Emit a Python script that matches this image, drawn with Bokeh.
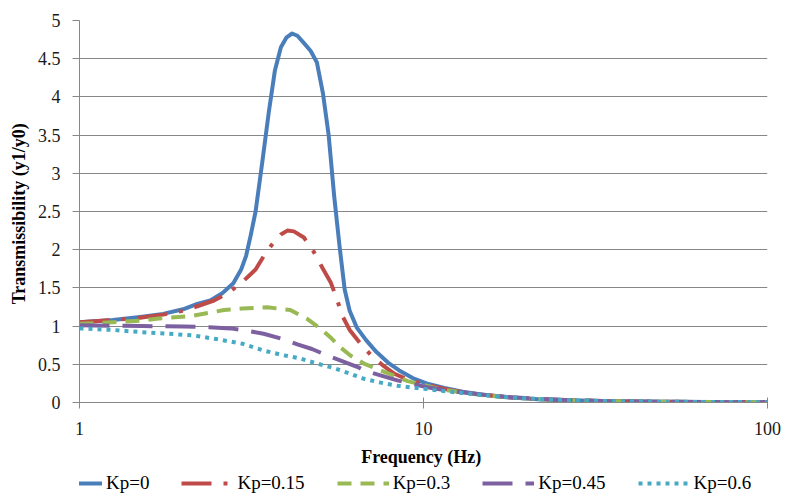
from bokeh.plotting import figure
from bokeh.layouts import column
from bokeh.models import Range1d, FixedTicker, CustomJSTickFormatter, Legend, LegendItem
from bokeh.embed import file_html
from bokeh.resources import INLINE

# ---- data ----
f_kp0 = [1, 1.25, 1.5, 1.75, 2, 2.2, 2.4, 2.6, 2.8, 2.95, 3.05, 3.15, 3.25, 3.4, 3.55, 3.7, 3.85,
         4.0, 4.15, 4.3, 4.5, 4.7, 4.9, 5.1, 5.3, 5.5, 5.7, 5.9, 6.1, 6.4, 6.8, 7.3, 7.9, 8.5,
         9.3, 10.2, 11.5, 13, 15, 18, 22, 27, 35, 50, 70, 100]
t_kp0 = [1.05, 1.08, 1.12, 1.16, 1.22, 1.29, 1.335, 1.43, 1.56, 1.74, 1.92, 2.2, 2.5, 3.15, 3.8,
         4.35, 4.65, 4.78, 4.83, 4.8, 4.7, 4.6, 4.45, 4.05, 3.5, 2.7, 2.05, 1.48, 1.2, 0.98, 0.82,
         0.66, 0.52, 0.42, 0.32, 0.25, 0.19, 0.14, 0.1, 0.065, 0.04, 0.028, 0.018, 0.01, 0.006, 0.004]

f_kp015 = [1, 1.25, 1.5, 1.75, 2, 2.2, 2.46, 2.7, 2.97, 3.25, 3.47, 3.7, 3.85, 4.02, 4.2, 4.49,
           4.8, 5.1, 5.37, 5.59, 5.8, 6.1, 6.56, 7.1, 7.6, 8.2, 8.8, 9.5, 10.5, 12, 14, 17, 21,
           27, 35, 50, 70, 100]
t_kp015 = [1.05, 1.08, 1.11, 1.15, 1.2, 1.26, 1.335, 1.43, 1.575, 1.74, 1.95, 2.12, 2.2, 2.25,
           2.24, 2.16, 1.97, 1.75, 1.575, 1.365, 1.14, 0.95, 0.77, 0.6, 0.49, 0.38, 0.32, 0.27,
           0.22, 0.16, 0.115, 0.075, 0.045, 0.028, 0.018, 0.01, 0.006, 0.004]

f_kp03 = [1, 1.25, 1.5, 1.7, 2.1, 2.63, 2.97, 3.51, 4.1, 4.39, 4.59, 5.02, 5.4, 5.74, 6.13,
          6.71, 7.5, 8.0, 9.0, 10, 11, 13, 15, 18, 22, 27, 35, 50, 70, 100]
t_kp03 = [1.03, 1.05, 1.07, 1.1, 1.13, 1.21, 1.23, 1.247, 1.21, 1.14, 1.095, 0.965, 0.84, 0.72,
          0.615, 0.51, 0.42, 0.37, 0.28, 0.23, 0.18, 0.13, 0.095, 0.065, 0.042, 0.028, 0.018,
          0.01, 0.006, 0.004]

f_kp045 = [1, 1.52, 2.0, 2.38, 2.75, 2.97, 3.43, 3.9, 4.3, 4.74, 5.35, 6.47, 6.71, 8.39, 10.25,
           12, 15, 18, 22, 27, 35, 50, 70, 100]
t_kp045 = [1.01, 1.0, 0.995, 0.985, 0.97, 0.95, 0.9, 0.83, 0.76, 0.7, 0.6, 0.46, 0.42, 0.29,
           0.2, 0.15, 0.1, 0.068, 0.045, 0.03, 0.018, 0.01, 0.006, 0.004]

f_kp06 = [1, 1.25, 1.52, 1.8, 2.13, 2.5, 2.97, 3.43, 3.9, 4.35, 4.9, 5.49, 6.1, 6.71, 7.5, 8.39,
          9.3, 10.25, 12, 15, 18, 22, 27, 35, 50, 70, 100]
t_kp06 = [0.97, 0.95, 0.92, 0.9, 0.88, 0.83, 0.77, 0.68, 0.62, 0.58, 0.51, 0.45, 0.38, 0.31,
          0.26, 0.22, 0.195, 0.175, 0.14, 0.095, 0.065, 0.043, 0.028, 0.018, 0.01, 0.006, 0.004]

labels = ["Kp=0", "Kp=0.15", "Kp=0.3", "Kp=0.45", "Kp=0.6"]
y_ticks = [0, 0.5, 1, 1.5, 2, 2.5, 3, 3.5, 4, 4.5, 5]
x_ticks = [1, 10, 100]

series = [(f_kp0, t_kp0), (f_kp015, t_kp015), (f_kp03, t_kp03), (f_kp045, t_kp045), (f_kp06, t_kp06)]
colors = ["#4A7EBB", "#BE4B48", "#98B954", "#7D60A0", "#46AAC5"]
dashes = ["solid", "30 12 4 12", "14 9", "30 13", "4 5"]

SERIF = "Liberation Serif"
GRID = "#878787"

p = figure(frame_width=688, frame_height=382, x_axis_type="log", x_range=Range1d(1, 100),
           y_range=Range1d(0, 5), output_backend="svg", toolbar_location=None,
           min_border_left=79, min_border_right=18, min_border_top=20, min_border_bottom=70)
p.outline_line_color = None
p.background_fill_color = "white"
p.border_fill_color = "white"

p.xgrid.visible = False
p.ygrid.grid_line_color = GRID
p.ygrid.grid_line_width = 1
p.ygrid.ticker = FixedTicker(ticks=y_ticks)

p.yaxis.ticker = FixedTicker(ticks=y_ticks, minor_ticks=[])
p.yaxis.formatter = CustomJSTickFormatter(code="return tick.toString();")
p.xaxis.ticker = FixedTicker(ticks=x_ticks, minor_ticks=[])
p.xaxis.formatter = CustomJSTickFormatter(code="return tick.toString();")

for ax in (p.xaxis[0], p.yaxis[0]):
    ax.axis_line_color = GRID
    ax.major_tick_line_color = GRID
    ax.minor_tick_line_color = None
    ax.major_label_text_font = SERIF
    ax.major_label_text_font_size = "18px"
    ax.major_label_text_color = "#1a1a1a"
    ax.axis_label_text_font = SERIF
    ax.axis_label_text_font_style = "bold"
    ax.axis_label_text_font_size = "18px"
    ax.axis_label_text_color = "black"

p.xaxis.major_tick_in = 5
p.xaxis.major_tick_out = 6
p.yaxis.major_tick_in = 0
p.yaxis.major_tick_out = 7

p.xaxis.axis_label = "Frequency  (Hz)"
p.yaxis.axis_label = "Transmissibility  (y1/y0)"
p.xaxis.major_label_standoff = 13
p.xaxis.axis_label_standoff = 9
p.yaxis.major_label_standoff = 12
p.yaxis.axis_label_standoff = 6

for (fx, ty), c, d in zip(series, colors, dashes):
    p.line(fx, ty, line_color=c, line_width=4, line_dash=d, line_join="round")

# ---- legend strip below the chart (its frame is aligned with the chart frame) ----
lg = figure(frame_width=688, height=24, x_range=Range1d(0, 1), y_range=Range1d(0, 1),
            output_backend="svg", toolbar_location=None,
            min_border_left=79, min_border_right=18, min_border_top=0, min_border_bottom=0)
lg.axis.visible = False
lg.grid.visible = False
lg.outline_line_color = None
lg.background_fill_color = "white"
lg.border_fill_color = "white"

proxies = []
for c, d in zip(colors, dashes):
    # legend proxies: drawn outside the strip's visible range
    proxies.append(lg.line([-5, -4], [-5, -4], line_color=c, line_width=4, line_dash=d))

legend = Legend(items=[LegendItem(label=l, renderers=[r]) for l, r in zip(labels, proxies)],
                orientation="horizontal", location=(-29, 2),
                glyph_width=52, glyph_height=20, label_standoff=4, spacing=32,
                padding=0, margin=0, border_line_alpha=0, background_fill_alpha=0,
                label_text_font=SERIF, label_text_font_size="19px", label_text_color="black")
lg.add_layout(legend, "center")

layout = column(p, lg, spacing=0)
open("out.html", "w").write(file_html(layout, INLINE))
